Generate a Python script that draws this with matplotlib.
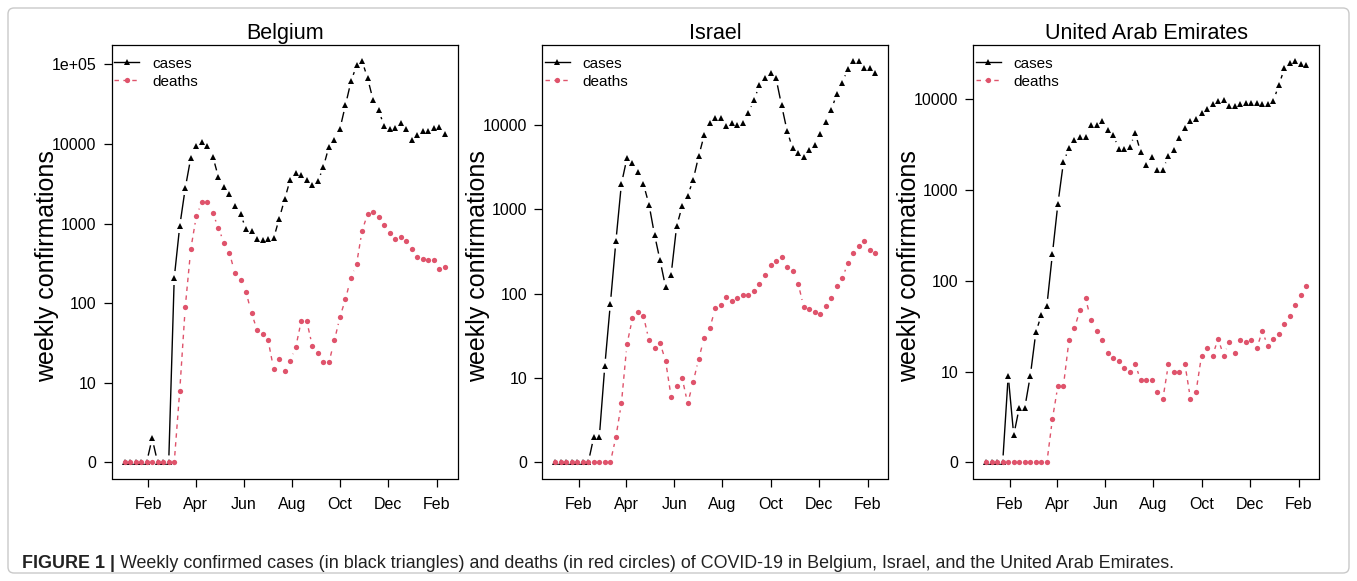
import numpy as np
import pandas as pd
import matplotlib
matplotlib.use('Agg')
import matplotlib.pyplot as plt
import matplotlib.dates as mdates
from matplotlib.collections import LineCollection
from matplotlib.lines import Line2D
from matplotlib.patches import FancyBboxPatch
from matplotlib.transforms import IdentityTransform

plt.rcParams['font.family'] = ['Liberation Sans', 'DejaVu Sans']

# ---------------- data ----------------
week_start = '2020-01-02'
n_weeks = 59
countries = ['Belgium', 'Israel', 'United Arab Emirates']

belgium_cases = [0, 0, 0, 0, 0, 2, 0, 0, 0, 207, 931, 2790, 6710, 9490, 10670, 9310, 6900, 3830,
                 2870, 2340, 1640, 1315, 853, 798, 640, 628, 640, 652, 1150, 2030, 3560, 4270,
                 4060, 3480, 3010, 3380, 5120, 9230, 11300, 15500, 30700, 60800, 96600, 110700,
                 67000, 35800, 26300, 16900, 15500, 15800, 18100, 15300, 11200, 12800, 14400,
                 14500, 16000, 16400, 13200]
belgium_deaths = [0, 0, 0, 0, 0, 0, 0, 0, 0, 0, 8, 90, 479, 1242, 1860, 1884, 1343, 879, 575, 426,
                  237, 198, 137, 75, 46, 41, 34, 15, 20, 14, 19, 28, 60, 59, 29, 24, 18, 18, 34,
                  67, 112, 210, 308, 805, 1316, 1393, 1221, 957, 768, 647, 678, 603, 484, 380,
                  359, 352, 345, 268, 285]
israel_cases = [0, 0, 0, 0, 0, 0, 0, 2, 2, 14, 76, 416, 2003, 4030, 3550, 2800, 1980, 1140, 499,
                248, 120, 168, 631, 1088, 1445, 2250, 4300, 7620, 10650, 12100, 12200, 9820,
                10450, 9890, 10560, 13720, 19900, 29400, 35600, 41500, 35600, 17100, 8490, 5290,
                4660, 4220, 5100, 5740, 7820, 10940, 15200, 23300, 31700, 46400, 57700, 56600,
                47300, 47300, 41200]
israel_deaths = [0, 0, 0, 0, 0, 0, 0, 0, 0, 0, 0, 2, 5, 25, 51, 60, 54, 28, 23, 26, 16, 6, 8, 10,
                 5, 9, 17, 30, 39, 67, 73, 91, 83, 88, 96, 96, 109, 129, 168, 220, 246, 271, 209,
                 184, 132, 70, 66, 61, 58, 72, 88, 125, 153, 230, 302, 363, 424, 332, 302]
uae_cases = [0, 0, 0, 0, 9, 2, 4, 4, 9, 27, 42, 53, 197, 707, 2013, 2890, 3540, 3820, 3820, 5170,
             5170, 5780, 4600, 4060, 2850, 2850, 2965, 4200, 2590, 1897, 2285, 1672, 1672, 2360,
             2775, 3700, 4845, 5780, 6080, 6960, 7770, 8740, 9440, 9750, 8460, 8320, 8820, 9040,
             9040, 8980, 8740, 8820, 9600, 14250, 21770, 25100, 26400, 24500, 23500]
uae_deaths = [0, 0, 0, 0, 0, 0, 0, 0, 0, 0, 0, 0, 3, 7, 7, 22, 30, 48, 64, 37, 28, 22, 16, 14, 13,
              11, 10, 12, 8, 8, 8, 6, 5, 12, 10, 10, 12, 5, 6, 15, 18, 15, 23, 15, 21, 16, 22, 21,
              22, 18, 28, 19, 23, 26, 33, 41, 54, 70, 88]

cases_by_country = [belgium_cases, israel_cases, uae_cases]
deaths_by_country = [belgium_deaths, israel_deaths, uae_deaths]

ytick_values = [1, 10, 100, 1000, 10000, 100000]
ytick_labels = ['0', '10', '100', '1000', '10000', '1e+05']
xtick_dates = ['2020-02-01', '2020-04-01', '2020-06-01', '2020-08-01',
               '2020-10-01', '2020-12-01', '2021-02-01']
xtick_labels = ['Feb', 'Apr', 'Jun', 'Aug', 'Oct', 'Dec', 'Feb']

caption_bold = 'FIGURE 1 |'
caption_text = (' Weekly confirmed cases (in black triangles) and deaths (in red circles) '
                'of COVID-19 in Belgium, Israel, and the United Arab Emirates.')

# ---------------- style ----------------
RED = '#DF536B'
W, H = 1357, 581
DPI = 100
GAP_PX = 7.0
DASH = (0, (3.2, 3.2))

fig = plt.figure(figsize=(W / DPI, H / DPI), dpi=DPI)


def fwd(v):
    v = np.asarray(v, dtype=float)
    return np.log10(np.maximum(v, 1e-12))


def inv(L):
    return 10.0 ** np.asarray(L, dtype=float)


def shown(v):
    # zero counts are drawn at the "0" baseline (log10 = 0)
    return np.clip(np.asarray(v, dtype=float), 1, None)


def broken_line(ax, xnum, yv, color, ls, lw):
    pts = ax.transData.transform(np.column_stack([xnum, shown(yv)]))
    segs = []
    for p1, p2 in zip(pts[:-1], pts[1:]):
        d = p2 - p1
        L = np.hypot(*d)
        if L > 2 * GAP_PX:
            u = d / L
            segs.append([p1 + u * GAP_PX, p2 - u * GAP_PX])
    if not segs:
        return
    inv_t = ax.transData.inverted()
    segs_data = [inv_t.transform(np.array(s)) for s in segs]
    lc = LineCollection(segs_data, colors=color, linewidths=lw, linestyles=ls, zorder=2)
    ax.add_collection(lc)


dates = pd.date_range(week_start, periods=n_weeks, freq='7D')
xnum = mdates.date2num(dates.to_pydatetime())

ax_lefts_px = [111.7, 542.3, 973.3]
ax_w_px = 346.0
ax_top_px, ax_bot_px = 44.7, 478.5
ax_h_px = ax_bot_px - ax_top_px
ylabel_x_px = [47, 478, 909]

for k, country in enumerate(countries):
    ax = fig.add_axes([ax_lefts_px[k] / W, 1 - ax_bot_px / H, ax_w_px / W, ax_h_px / H])
    ax.set_yscale('function', functions=(fwd, inv))
    cases = np.array(cases_by_country[k], dtype=float)
    deaths = np.array(deaths_by_country[k], dtype=float)

    # R-like 4% padding
    xr = xnum[-1] - xnum[0]
    ax.set_xlim(xnum[0] - 0.04 * xr, xnum[-1] + 0.04 * xr)
    Lmax = max(fwd(shown(cases)).max(), fwd(shown(deaths)).max())
    ax.set_ylim(inv(-0.04 * Lmax), inv(Lmax * 1.04))

    broken_line(ax, xnum, cases, 'black', '-', 1.0)
    broken_line(ax, xnum, deaths, RED, DASH, 1.0)
    ax.plot(xnum, shown(cases), ls='none', marker='^', ms=4.9, color='black',
            markeredgewidth=0, zorder=3)
    ax.plot(xnum, shown(deaths), ls='none', marker='o', ms=3.8, color=RED,
            markeredgewidth=0, zorder=4)

    nt = sum(1 for t in ytick_values if t <= inv(Lmax * 1.04))
    ax.set_yticks(ytick_values[:nt])
    ax.set_yticklabels(ytick_labels[:nt])
    ax.yaxis.set_minor_locator(matplotlib.ticker.NullLocator())
    ax.set_xticks(mdates.date2num(pd.to_datetime(xtick_dates).to_pydatetime()))
    ax.set_xticklabels(xtick_labels)
    ax.tick_params(axis='both', direction='out', length=5.5, width=0.9, labelsize=11.5,
                   color='black')
    ax.tick_params(axis='y', pad=5.5)
    ax.tick_params(axis='x', pad=7.5)
    for sp in ax.spines.values():
        sp.set_linewidth(0.9)
        sp.set_color('black')

    ax.text(0.5, 1.026, country, transform=ax.transAxes, ha='center', va='center',
            fontsize=15.5)
    fig.text(ylabel_x_px[k] / W, 1 - 266 / H, 'weekly confirmations', rotation=90,
             ha='center', va='center', fontsize=18)

    handles = [Line2D([], [], color='black', lw=1.0, marker='^', ms=4.9, markeredgewidth=0),
               Line2D([], [], color=RED, lw=1.0, ls=DASH, marker='o', ms=3.8,
                      markeredgewidth=0)]
    ax.legend(handles, ['cases', 'deaths'], loc='upper left', frameon=False, fontsize=11,
              handlelength=1.6, handletextpad=0.85, borderaxespad=0, borderpad=0,
              labelspacing=0.25, bbox_to_anchor=(0.008, 1 - 12 / ax_h_px))

# border box
box = FancyBboxPatch((8, 8), W - 16, H - 16, boxstyle='round,pad=0,rounding_size=6',
                     transform=IdentityTransform(), facecolor='none', edgecolor='#c9c9c9',
                     linewidth=1.0)
fig.patches.append(box)

t1 = fig.text(22 / W, 1 - 563 / H, caption_bold, fontsize=12.9, weight='bold', va='center',
              ha='left', color='#222222')
fig.canvas.draw()
bb = t1.get_window_extent(renderer=fig.canvas.get_renderer())
fig.text(bb.x1 / W, 1 - 563 / H, caption_text, fontsize=12.9, va='center', ha='left',
         color='#222222')

fig.savefig('out.png', dpi=DPI)
